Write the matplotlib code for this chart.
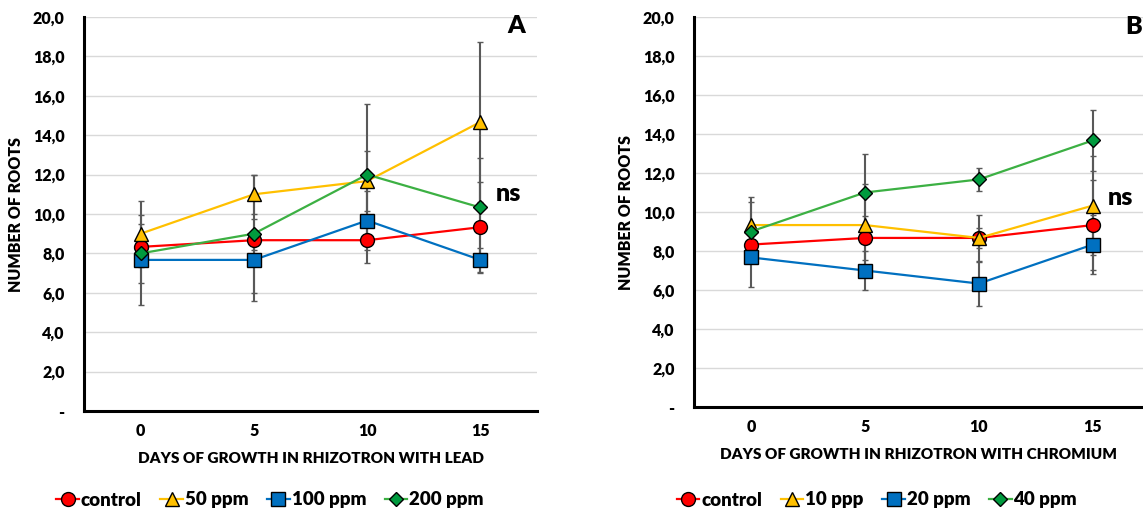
import numpy as np
import matplotlib.pyplot as plt
from matplotlib.ticker import FuncFormatter

plt.rcParams['font.family'] = ['Lato', 'DejaVu Sans']
W = "heavy"
plt.rcParams['font.weight'] = W
plt.rcParams['axes.labelweight'] = W

# Data
days = ["0", "5", "10", "15"]

# Panel A - lead
lead_labels = ["control", "50 ppm", "100 ppm", "200 ppm"]
lead_control = [8.33, 8.67, 8.67, 9.33]
lead_50 = [9.0, 11.0, 11.67, 14.67]
lead_100 = [7.67, 7.67, 9.67, 7.67]
lead_200 = [8.0, 9.0, 12.0, 10.33]
lead_control_err = [0.6, 0.5, 1.17, 2.3]
lead_50_err = [1.67, 1.0, 1.53, 4.07]
lead_100_err = [2.27, 2.1, 1.5, 0.6]
lead_200_err = [1.5, 3.0, 3.6, 2.5]

# Panel B - chromium
cr_labels = ["control", "10 ppp", "20 ppm", "40 ppm"]
cr_control = [8.33, 8.67, 8.67, 9.33]
cr_10 = [9.33, 9.33, 8.67, 10.33]
cr_20 = [7.67, 7.0, 6.33, 8.33]
cr_40 = [9.0, 11.0, 11.67, 13.67]
cr_control_err = [0.5, 1.15, 1.17, 2.3]
cr_10_err = [1.42, 2.1, 0.53, 2.55]
cr_20_err = [1.5, 1.0, 1.13, 1.5]
cr_40_err = [1.5, 2.0, 0.58, 1.55]

styles = [
    dict(color="#FF0000", marker="o", mfc="#FF0000", ms=10),
    dict(color="#FFC000", marker="^", mfc="#FFC000", ms=10),
    dict(color="#0070C0", marker="s", mfc="#0070C0", ms=9.5),
    dict(color="#3CB043", marker="D", mfc="#009A3E", ms=7),
]


def fmt(v, pos):
    if abs(v) < 1e-9:
        return "-"
    return ("%.1f" % v).replace(".", ",")


def draw_panel(ax, series, errors, labels, xlabel, xmax, letter, letter_pos, ns_pos):
    x = np.arange(len(days))
    for vals, errs in zip(series, errors):
        ax.errorbar(x, vals, yerr=errs, fmt="none", ecolor="#595959",
                    elinewidth=1.5, capsize=2, capthick=1, zorder=2)
    for vals, st, lab in zip(series, styles, labels):
        ax.plot(x, vals, color=st["color"], lw=1.6, marker=st["marker"],
                markerfacecolor=st["mfc"], markeredgecolor="black",
                markeredgewidth=1, markersize=st["ms"], label=lab, zorder=3)
    ax.set_xlim(-0.5, xmax)
    ax.set_ylim(0, 20)
    ax.set_yticks(np.arange(0, 21, 2))
    ax.yaxis.set_major_formatter(FuncFormatter(fmt))
    ax.set_xticks(x)
    ax.set_xticklabels(days)
    ax.grid(axis="y", color="#D9D9D9", lw=1)
    ax.set_axisbelow(True)
    for s in ["top", "right"]:
        ax.spines[s].set_visible(False)
    ax.spines["left"].set_linewidth(2.2)
    ax.spines["bottom"].set_linewidth(2.2)
    ax.tick_params(length=0, labelsize=11.5, pad=9)
    ax.tick_params(axis="y", pad=14)
    for t in ax.get_xticklabels() + ax.get_yticklabels():
        t.set_fontweight(W)
    ax.set_xlabel(xlabel, fontsize=11, fontweight=W, labelpad=9)
    ax.set_ylabel("NUMBER OF ROOTS", fontsize=11.5, fontweight=W, labelpad=6)
    ax.text(letter_pos[0], letter_pos[1], letter, fontsize=18, fontweight=W,
            ha="center", va="center", clip_on=False)
    ax.text(ns_pos[0], ns_pos[1], "ns", fontsize=18, fontweight=W,
            ha="center", va="center")


fig = plt.figure(figsize=(11.43, 5.13), dpi=100)
ax1 = fig.add_axes([84 / 1143, 1 - 411 / 513, (537 - 84) / 1143, (411 - 17) / 513])
ax2 = fig.add_axes([694 / 1143, 1 - 407 / 513, (1143 - 694) / 1143, (407 - 17) / 513])

draw_panel(ax1, [lead_control, lead_50, lead_100, lead_200],
           [lead_control_err, lead_50_err, lead_100_err, lead_200_err],
           lead_labels, "DAYS OF GROWTH IN RHIZOTRON WITH LEAD", 3.5, "A",
           (3.32, 19.55), (3.25, 11.0))
draw_panel(ax2, [cr_control, cr_10, cr_20, cr_40],
           [cr_control_err, cr_10_err, cr_20_err, cr_40_err],
           cr_labels, "DAYS OF GROWTH IN RHIZOTRON WITH CHROMIUM", 3.44, "B",
           (3.36, 19.5), (3.24, 10.7))

for ax, cx in [(ax1, 270 / 1143), (ax2, 877 / 1143)]:
    leg = ax.legend(loc="center", bbox_to_anchor=(cx, 13 / 513), bbox_transform=fig.transFigure,
                    ncol=4, frameon=False, fontsize=13.5, handlelength=1.2, handletextpad=0.1,
                    columnspacing=1.0, borderaxespad=0)
    for t in leg.get_texts():
        t.set_fontweight(W)

fig.savefig("out.png", dpi=100)
